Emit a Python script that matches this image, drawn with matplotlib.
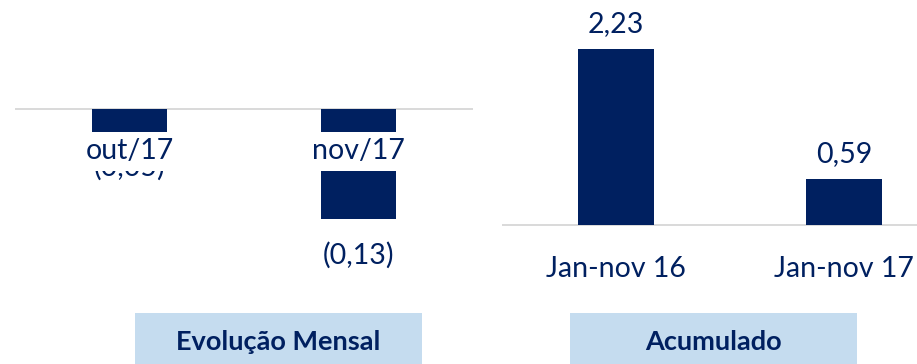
import matplotlib
matplotlib.use("Agg")
import matplotlib.pyplot as plt
from matplotlib.patches import Rectangle

# monthly result and year-to-date totals
months = ["out/17", "nov/17"]
month_values = [-0.05, -0.13]
month_labels = ["(0,05)", "(0,13)"]

periods = ["Jan-nov 16", "Jan-nov 17"]
period_values = [2.23, 0.59]
period_labels = ["2,23", "0,59"]

panel_titles = ["Evolução Mensal", "Acumulado"]

NAVY = "#002060"
GRID = "#D9D9D9"
BOX = "#C5DCEF"
W, H = 917, 364
FS = 20.5

plt.rcParams["font.family"] = ["Lato", "DejaVu Sans"]

fig = plt.figure(figsize=(W / 100, H / 100), dpi=100)


def px_axes(x0, x1, y0, y1):
    # axes from pixel box (y measured from the top)
    return fig.add_axes([x0 / W, (H - y1) / H, (x1 - x0) / W, (y1 - y0) / H])


def bare(ax):
    for s in ax.spines.values():
        s.set_visible(False)
    ax.set_xticks([])
    ax.set_yticks([])
    ax.patch.set_alpha(0)


# left panel: monthly bars, zero line at y=109.5 px, 842 px per unit
ax1 = px_axes(15, 473, 0, 300)
bare(ax1)
scale1 = 842.0
ax1.set_ylim(-(300 - 109.5) / scale1, 109.5 / scale1)
ax1.set_xlim(-0.5, 1.5)
ax1.axhline(0, color=GRID, lw=1.4, zorder=1)
ax1.bar(range(len(months)), month_values, width=0.33, color=NAVY, zorder=2)
value_offsets = [-24, -45]
for i, (v, lab) in enumerate(zip(month_values, month_labels)):
    ax1.annotate(lab, xy=(i, v), xytext=(0, value_offsets[i]),
                 textcoords="offset pixels", ha="center", va="baseline",
                 fontsize=FS, color=NAVY, zorder=3)
# category names sit on white plates that cut through the bars
for i, lab in enumerate(months):
    ax1.annotate(lab, xy=(i, 0), xytext=(0, -50), textcoords="offset pixels",
                 ha="center", va="baseline", fontsize=FS, color=NAVY,
                 zorder=5,
                 bbox=dict(boxstyle="square,pad=0.22", fc="white", ec="none"))

# right panel: year-to-date bars, zero line at y=225.3 px, 79.2 px per unit
ax2 = px_axes(502, 958, 0, 300)
bare(ax2)
scale2 = 79.2
ax2.set_ylim(-(300 - 225.3) / scale2, 225.3 / scale2)
ax2.set_xlim(-0.5, 1.5)
ax2.axhline(0, color=GRID, lw=1.4, zorder=1)
ax2.bar(range(len(periods)), period_values, width=0.33, color=NAVY, zorder=2)
for i, (v, lab) in enumerate(zip(period_values, period_labels)):
    ax2.annotate(lab, xy=(i, v), xytext=(0, 17), textcoords="offset pixels",
                 ha="center", va="baseline", fontsize=FS, color=NAVY)
for i, lab in enumerate(periods):
    ax2.annotate(lab, xy=(i, 0), xytext=(0, -52), textcoords="offset pixels",
                 ha="center", va="baseline", fontsize=FS, color=NAVY)

# title boxes under each panel
for (x0, x1), title in zip([(135, 422), (570, 857)], panel_titles):
    fig.patches.append(Rectangle((x0 / W, 0), (x1 - x0) / W, (H - 313) / H,
                                 transform=fig.transFigure, fc=BOX, ec="none"))
    fig.text((x0 + x1) / 2 / W, (H - 350) / H, title, ha="center",
             va="baseline", fontsize=19.5, fontweight="bold", color=NAVY)

fig.savefig("out.png", dpi=100)
